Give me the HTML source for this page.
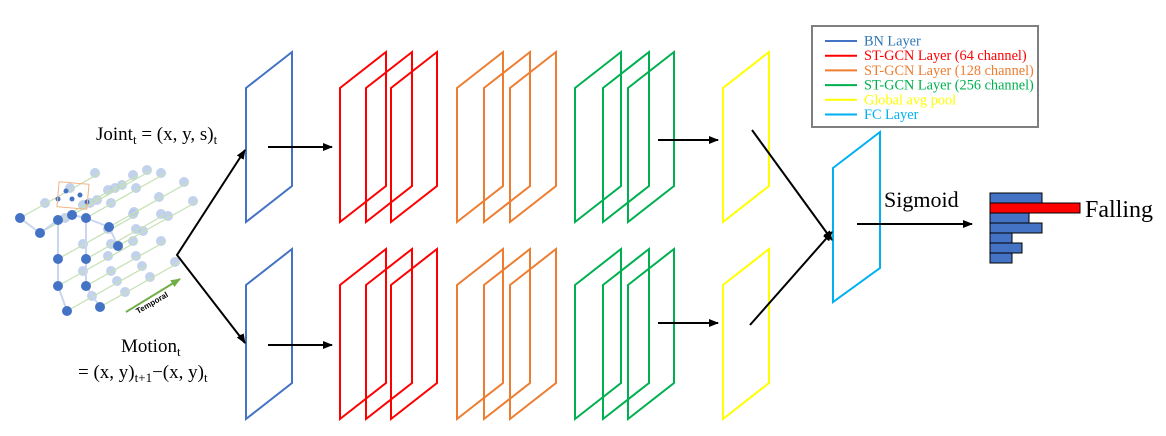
<!DOCTYPE html>
<html><head><meta charset="utf-8"><style>
html,body{margin:0;padding:0;background:#fff;}
svg{display:block;font-family:"Liberation Serif",serif;}
</style></head><body>
<svg id="s" width="1166" height="436" viewBox="0 0 1166 436" xmlns="http://www.w3.org/2000/svg">
<defs>
<marker id="ah" markerWidth="10" markerHeight="8" refX="9" refY="4" orient="auto" markerUnits="userSpaceOnUse"><path d="M0,0 L10,4 L0,8 z" fill="#000"/></marker>
<marker id="gh" markerWidth="10" markerHeight="8" refX="9" refY="4" orient="auto" markerUnits="userSpaceOnUse"><path d="M0,0 L10,4 L0,8 z" fill="#70ad47"/></marker>
</defs>
<g id="skel"></g>
<rect x="58" y="183" width="30" height="25" fill="none" stroke="#f4b183" stroke-width="1" transform="rotate(5 73 195)"/>
<line x1="126" y1="312" x2="180" y2="279" stroke="#70ad47" stroke-width="2" marker-end="url(#gh)"/>
<text x="138" y="314" font-family="Liberation Sans,sans-serif" font-size="8" font-weight="bold" transform="rotate(-30 138 314)">Temporal</text>
<text x="96" y="140" font-size="19">Joint<tspan font-size="13" dy="4">t</tspan><tspan dy="-4"> = (x, y, s)</tspan><tspan font-size="13" dy="4">t</tspan></text>
<text x="121" y="352" font-size="19">Motion<tspan font-size="13" dy="4">t</tspan></text>
<text x="78" y="378" font-size="19">= (x, y)<tspan font-size="13" dy="4">t+1</tspan><tspan dy="-4">−(x, y)</tspan><tspan font-size="13" dy="4">t</tspan></text>
<g id="layers"></g>
<g id="arrows"></g>
<text x="884" y="207" font-size="22">Sigmoid</text>
<g id="bars"></g>
<text x="1085" y="217" font-size="24">Falling</text>
<g>
<rect x="812" y="26" width="226" height="101" fill="#fff" stroke="#7f7f7f" stroke-width="2"/>
<g id="leg" font-size="14.3"></g>
</g>
</svg>
<script>
const NS='http://www.w3.org/2000/svg';
function mk(p,t,a){const e=document.createElementNS(NS,t);for(const k in a)e.setAttribute(k,a[k]);p.appendChild(e);return e;}
// skeleton
const darkX=[20,40,58,72,86,109,118,58,86,58,86,67,100];
const darkY=[218,233,220,215,218,227,246,259,259,286,286,311,307];
const sk=document.getElementById('skel');
for(let k=3;k>=1;k--){
  for(let i=0;i<darkX.length;i++){
    const c=mk(sk,'circle',{cx:darkX[i]+k*25,cy:darkY[i]-k*15,r:5,fill:'#b4c7e7',opacity:0.8});
    
    
  }
}
for(let i=0;i<darkX.length;i++){
  const l=mk(sk,'line',{x1:darkX[i],y1:darkY[i],x2:darkX[i]+80,y2:darkY[i]-45,stroke:'#c5e0b4','stroke-width':1.2});
  
  
}
const bones=[[0,1],[1,2],[2,3],[3,4],[4,5],[5,6],[2,7],[7,9],[9,11],[4,8],[8,10],[10,12]];
bones.forEach(b=>{const l=mk(sk,'line',{x1:darkX[b[0]],y1:darkY[b[0]],x2:darkX[b[1]],y2:darkY[b[1]],stroke:'#c9d6ee','stroke-width':2});
});
for(let i=0;i<darkX.length;i++){
  const c=mk(sk,'circle',{cx:darkX[i],cy:darkY[i],r:5,fill:'#4472c4'});
  
  
}
[[66,191],[80,195],[72,199],[58,199],[87,202]].forEach(p=>{const c=mk(sk,'circle',{cx:p[0],cy:p[1],r:2.5,fill:'#4472c4'});
});
// layers
const L=document.getElementById('layers');
const layerSpec=[[246,'#4472c4'],[340,'#ff0000'],[366,'#ff0000'],[391,'#ff0000'],[457,'#ed7d31'],[484,'#ed7d31'],[510,'#ed7d31'],[575,'#00b050'],[603,'#00b050'],[628,'#00b050'],[723,'#ffff00']];
[0,197].forEach(dy=>{
  layerSpec.forEach(s=>{
    const x=s[0],w=46;
    const p=mk(L,'polygon',{points:`${x},${88+dy} ${x+w},${52+dy} ${x+w},${186+dy} ${x},${222+dy}`,fill:'none',stroke:s[1],'stroke-width':2});
    
    
  });
});
const fc=mk(L,'polygon',{points:'833,168 880,132 880,268 833,302',fill:'none',stroke:'#00b0f0','stroke-width':2});


// arrows
const A=document.getElementById('arrows');
const arr=[[268,147,332,147],[658,140,718,140],[268,345,332,345],[658,323,718,323],[752,130,832,240],[750,325,832,232],[857,224,972,224]];
arr.forEach(a=>{const l=mk(A,'line',{x1:a[0],y1:a[1],x2:a[2],y2:a[3],stroke:'#000','stroke-width':2,'marker-end':'url(#ah)'});
});
const f1=mk(A,'polyline',{points:'245,150 177,255 245,343',fill:'none',stroke:'#000','stroke-width':2});

mk(A,'line',{x1:240,y1:158,x2:245,y2:150,stroke:'#000','stroke-width':2,'marker-end':'url(#ah)'});
mk(A,'line',{x1:240,y1:335,x2:245,y2:343,stroke:'#000','stroke-width':2,'marker-end':'url(#ah)'});
// bars
const barValues=[52,90,39,52,22,32,22];
const barHighlight=[false,true,false,false,false,false,false];
const B=document.getElementById('bars');
const bx=(v)=>v, by=(i)=>193+i*10;
barValues.forEach((v,i)=>{const r=mk(B,'rect',{x:990,y:by(i),width:bx(v),height:10,fill:barHighlight[i]?'#ff0000':'#4472c4',stroke:'#000','stroke-width':1});
});
// legend
const legLabels=['BN Layer','ST-GCN Layer (64 channel)','ST-GCN Layer (128 channel)','ST-GCN Layer (256 channel)','Global avg pool','FC Layer'];
const legColors=['#4472c4','#ff0000','#ed7d31','#00b050','#ffff00','#00b0f0'];
const legTextColors=['#2e75b6','#ff0000','#ed7d31','#00b050','#ffff00','#00b0f0'];
const G=document.getElementById('leg');
legLabels.forEach((t,i)=>{const y=41+i*14.7;
const l=mk(G,'line',{x1:825,y1:y,x2:857,y2:y,stroke:legColors[i],'stroke-width':2});

const tx=mk(G,'text',{x:864,y:y+4.5,fill:legTextColors[i]});tx.textContent=t;
});
</script>
</body></html>
